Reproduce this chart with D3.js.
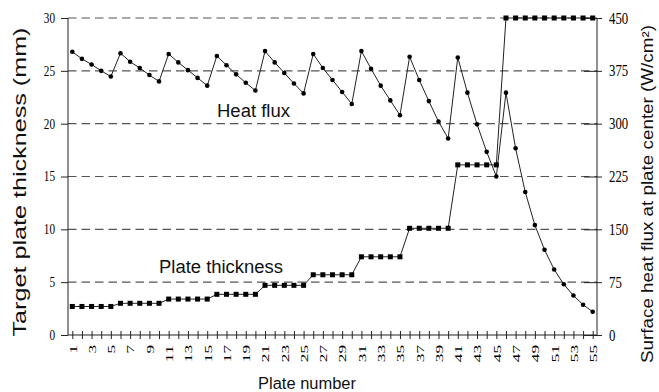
<!DOCTYPE html>
<html>
<head>
<meta charset="utf-8">
<script src="https://cdn.jsdelivr.net/npm/d3@7"></script>
<style>
  body { margin: 0; background: #fff; }
  svg { display: block; }
  .serif { font-family: "Liberation Serif", "DejaVu Serif", serif; }
  .sans { font-family: "Liberation Sans", Arial, sans-serif; }
</style>
</head>
<body>
<svg id="chart" width="659" height="392"></svg>
<script>
// plate numbers 1..55
const plates = d3.range(1, 56);

// surface heat flux at plate center (W/cm2)
const heatFlux = [
  402, 392, 384, 375, 367,
  400, 388, 379, 369, 360,
  399, 387, 376, 365, 354,
  396, 383, 370, 358, 347,
  403, 387, 372, 357, 343,
  399, 379, 362, 345, 328,
  403, 378, 354, 333, 312,
  395, 362, 332, 303, 279,
  394, 344, 299, 260, 225,
  344, 265, 203, 156, 121, 93, 72, 56, 43, 33
];

// target plate thickness (mm), one step per group of plates
const thickSteps = [2.7, 3.0, 3.4, 3.85, 4.7, 5.7, 7.4, 10.1, 16.1, 30];
const stepSizes  = [5, 5, 5, 5, 5, 5, 5, 5, 5, 10];
const thickness = thickSteps.flatMap((v, i) => d3.range(stepSizes[i]).map(() => v));

const leftTicks = [0, 5, 10, 15, 20, 25, 30];
const rightTicks = [0, 75, 150, 225, 300, 375, 450];

const svg = d3.select("#chart");
const mLeft = 68, mRight = 597, mTop = 18, mBottom = 335;

const x = d3.scaleLinear().domain([1, 55]).range([72.3, 592.7]);
const yL = d3.scaleLinear().domain([0, 30]).range([mBottom, mTop]);
const yR = d3.scaleLinear().domain([0, 450]).range([mBottom, mTop]);

// dashed grid
svg.append("g")
  .selectAll("line")
  .data(leftTicks.filter(d => d > 0))
  .join("line")
  .attr("x1", mLeft).attr("x2", mRight)
  .attr("y1", d => yL(d)).attr("y2", d => yL(d))
  .attr("stroke", "#555").attr("stroke-width", 1.1)
  .attr("stroke-dasharray", "8.5,5");

// left axis
const gL = svg.append("g")
  .attr("transform", `translate(${mLeft},0)`)
  .call(d3.axisLeft(yL).tickValues(leftTicks).tickSize(7).tickSizeOuter(0).tickPadding(6));
gL.select(".domain").attr("d", `M0,${mTop}V${mBottom}`);
gL.selectAll(".tick text").attr("class", "serif").attr("font-size", 14)
  .attr("textLength", d => String(d).length * 5.6).attr("lengthAdjust", "spacingAndGlyphs");

// right axis: inner ticks and outer ticks with labels
svg.append("g")
  .attr("transform", `translate(${mRight},0)`)
  .call(d3.axisLeft(yR).tickValues(rightTicks).tickSize(13).tickSizeOuter(0).tickFormat(""))
  .select(".domain").remove();
const gR = svg.append("g")
  .attr("transform", `translate(${mRight},0)`)
  .call(d3.axisRight(yR).tickValues(rightTicks).tickSize(5).tickSizeOuter(0).tickPadding(7));
gR.select(".domain").attr("d", `M0,${mTop}V${mBottom}`);
gR.selectAll(".tick text").attr("class", "serif").attr("font-size", 16)
  .attr("textLength", d => String(d).length * 6.4).attr("lengthAdjust", "spacingAndGlyphs");

// bottom axis with crossing ticks
const gX = svg.append("g")
  .attr("transform", `translate(0,${mBottom})`)
  .call(d3.axisBottom(x).tickValues(plates).tickSize(4).tickSizeOuter(0)
    .tickFormat(d => d % 2 === 1 ? d : ""));
gX.select(".domain").attr("d", `M${mLeft},0H${mRight}`);
gX.selectAll(".tick line").attr("y1", -4).attr("y2", 4);
gX.selectAll(".tick text")
  .attr("class", "serif").attr("font-size", 11)
  .attr("transform", "rotate(-90)")
  .attr("text-anchor", "end")
  .attr("x", -10).attr("y", 0).attr("dy", "0.35em")
  .attr("textLength", d => d % 2 === 1 ? String(d).length * 8.6 : null)
  .attr("lengthAdjust", "spacingAndGlyphs");

svg.selectAll(".domain, .tick line").attr("stroke", "#222");

// heat flux series
svg.append("path")
  .datum(plates)
  .attr("fill", "none").attr("stroke", "#222").attr("stroke-width", 1)
  .attr("d", d3.line().x(p => x(p)).y((p, i) => yR(heatFlux[i])));
svg.append("g")
  .selectAll("circle")
  .data(plates)
  .join("circle")
  .attr("cx", p => x(p)).attr("cy", (p, i) => yR(heatFlux[i]))
  .attr("r", 2.3).attr("fill", "#000");

// plate thickness series
svg.append("path")
  .datum(plates)
  .attr("fill", "none").attr("stroke", "#222").attr("stroke-width", 1)
  .attr("d", d3.line().x(p => x(p)).y((p, i) => yL(thickness[i])));
svg.append("g")
  .selectAll("rect")
  .data(plates)
  .join("rect")
  .attr("x", p => x(p) - 2.5).attr("y", (p, i) => yL(thickness[i]) - 2.5)
  .attr("width", 5).attr("height", 5).attr("fill", "#000");

// labels
const label = (txt, px, py, size, len, rot) => {
  const t = svg.append("text").attr("class", "sans")
    .attr("font-size", size).attr("fill", "#111")
    .attr("textLength", len).attr("lengthAdjust", "spacingAndGlyphs")
    .text(txt);
  if (rot) {
    t.attr("text-anchor", "middle").attr("transform", `translate(${px},${py}) rotate(-90)`);
  } else {
    t.attr("x", px).attr("y", py);
  }
  return t;
};
label("Heat flux", 217, 117, 18, 73);
label("Plate thickness", 159, 273, 18, 124);
label("Plate number", 258, 389, 16, 98);
label("Target plate thickness (mm)", 26, 182, 18, 309, true);
label("Surface heat flux at plate center (W/cm²)", 653, 194, 16.5, 338, true);
</script>
</body>
</html>
